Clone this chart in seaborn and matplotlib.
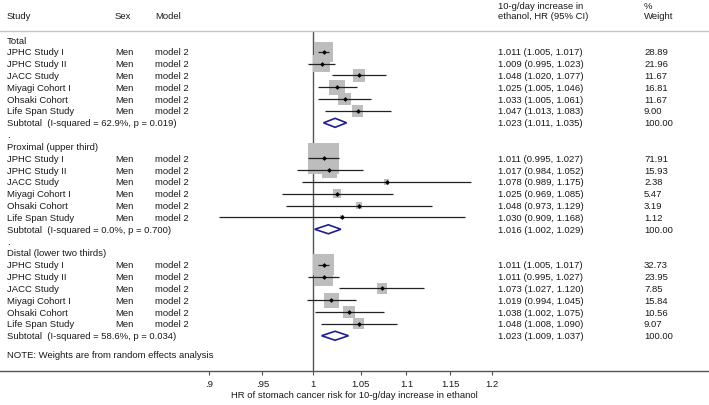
import numpy as np
import pandas as pd
import matplotlib
matplotlib.use("Agg")
import matplotlib.pyplot as plt
import seaborn as sns

# ---- data ----
groups = ["Total", "Proximal (upper third)", "Distal (lower two thirds)"]
studies = ["JPHC Study I", "JPHC Study II", "JACC Study", "Miyagi Cohort I",
           "Ohsaki Cohort", "Life Span Study"]
sex = "Men"
model = "model 2"

hr = [[1.011, 1.009, 1.048, 1.025, 1.033, 1.047],
      [1.011, 1.017, 1.078, 1.025, 1.048, 1.030],
      [1.011, 1.011, 1.073, 1.019, 1.038, 1.048]]
lo = [[1.005, 0.995, 1.020, 1.005, 1.005, 1.013],
      [0.995, 0.984, 0.989, 0.969, 0.973, 0.909],
      [1.005, 0.995, 1.027, 0.994, 1.002, 1.008]]
hi = [[1.017, 1.023, 1.077, 1.046, 1.061, 1.083],
      [1.027, 1.052, 1.175, 1.085, 1.129, 1.168],
      [1.017, 1.027, 1.120, 1.045, 1.075, 1.090]]
weight = [[28.89, 21.96, 11.67, 16.81, 11.67, 9.00],
          [71.91, 15.93, 2.38, 5.47, 3.19, 1.12],
          [32.73, 23.95, 7.85, 15.84, 10.56, 9.07]]

sub_hr = [1.023, 1.016, 1.023]
sub_lo = [1.011, 1.002, 1.009]
sub_hi = [1.035, 1.029, 1.037]
sub_i2 = ["62.9%", "0.0%", "58.6%"]
sub_p = ["0.019", "0.700", "0.034"]

xticks = [0.9, 0.95, 1, 1.05, 1.1, 1.15, 1.2]
xticklabels = [".9", ".95", "1", "1.05", "1.1", "1.15", "1.2"]

# ---- table of study rows ----
recs = []
for g in range(3):
    base = g * 9
    for i, s in enumerate(studies):
        recs.append(dict(row=base + 1 + i, study=s, hr=hr[g][i], lo=lo[g][i],
                         hi=hi[g][i], weight=weight[g][i]))
df = pd.DataFrame(recs)

sns.set_style("white")
plt.rcParams["font.family"] = ["Liberation Sans", "DejaVu Sans"]
fs = 6.8
tc = "#1a1a1a"

fig = plt.figure(figsize=(7.09, 4.06), dpi=100)
ax = fig.add_axes([0, 34 / 406, 1, 372 / 406])
ax.set_xscale("log")
ax.set_xlim(0.7274, 1.4966)
ax.set_ylim(27.98, -3.466)

# weight boxes (area proportional to weight)
k = 7.1
wmin, wmax = df["weight"].min(), df["weight"].max()
sns.scatterplot(data=df, x="hr", y="row", size="weight", sizes=(k * wmin, k * wmax),
                size_norm=(wmin, wmax), marker="s", color="#bdbdbd",
                linewidth=0, legend=False, ax=ax, zorder=2)
# confidence intervals
ax.hlines(df["row"], df["lo"], df["hi"], color="#222222", lw=0.9, zorder=3)
# point estimates
sns.scatterplot(data=df, x="hr", y="row", marker="D", s=6, color="black",
                linewidth=0, legend=False, ax=ax, zorder=4)

# subtotal diamonds
for g in range(3):
    r = g * 9 + 7
    ax.fill([sub_lo[g], sub_hr[g], sub_hi[g], sub_hr[g]],
            [r, r - 0.38, r, r + 0.38], facecolor="white",
            edgecolor="#1f1f8f", lw=1.2, zorder=3)

# reference line and header rule
ax.vlines(1, -0.80, 27.98, color="#555555", lw=1.0, zorder=1)
ax.axhline(-0.80, color="#c4c4c4", lw=1.0)

# text columns
tr = ax.get_yaxis_transform()
xs_study, xs_sex, xs_model, xs_hr, xs_w = 7 / 709, 115 / 709, 155 / 709, 498 / 709, 644 / 709


def txt(x, y, s):
    ax.text(x, y, s, transform=tr, fontsize=fs, color=tc, va="center", ha="left")


txt(xs_study, -2.03, "Study")
txt(xs_sex, -2.03, "Sex")
txt(xs_model, -2.03, "Model")
txt(xs_hr, -2.93, "10-g/day increase in")
txt(xs_hr, -2.03, "ethanol, HR (95% CI)")
txt(xs_w, -2.93, "%")
txt(xs_w, -2.03, "Weight")

for g in range(3):
    base = g * 9
    txt(xs_study, base, groups[g])
    for _, rw in df[(df["row"] > base) & (df["row"] < base + 7)].iterrows():
        txt(xs_study, rw["row"], rw["study"])
        txt(xs_sex, rw["row"], sex)
        txt(xs_model, rw["row"], model)
        txt(xs_hr, rw["row"], f"{rw['hr']:.3f} ({rw['lo']:.3f}, {rw['hi']:.3f})")
        txt(xs_w, rw["row"], f"{rw['weight']:.2f}")
    txt(xs_study, base + 7, f"Subtotal  (I-squared = {sub_i2[g]}, p = {sub_p[g]})")
    txt(xs_hr, base + 7, f"{sub_hr[g]:.3f} ({sub_lo[g]:.3f}, {sub_hi[g]:.3f})")
    txt(xs_w, base + 7, "100.00")
    if g < 2:
        txt(xs_study, base + 8, ".")

txt(xs_study, 26.6, "NOTE: Weights are from random effects analysis")

# axis styling
for sp in ["top", "left", "right"]:
    ax.spines[sp].set_visible(False)
ax.spines["bottom"].set_color("#555555")
ax.spines["bottom"].set_linewidth(1.0)
ax.set_yticks([])
ax.xaxis.set_minor_locator(matplotlib.ticker.NullLocator())
ax.set_xticks(xticks)
ax.set_xticklabels(xticklabels)
ax.tick_params(axis="x", direction="out", length=3, width=0.8, color="#555555",
               labelsize=fs, labelcolor=tc, pad=2.5, bottom=True)
ax.set_xlabel("HR of stomach cancer risk for 10-g/day increase in ethanol",
              fontsize=fs, color=tc, labelpad=1.5)
ax.set_ylabel("")

fig.savefig("out.png", dpi=100, facecolor="white")
